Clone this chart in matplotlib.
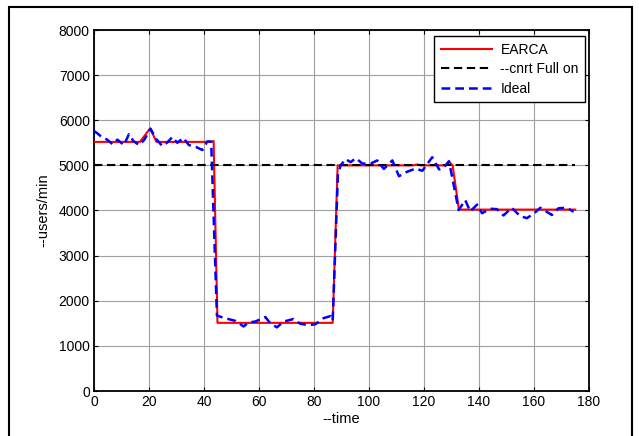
import matplotlib
matplotlib.use("Agg")
import matplotlib.pyplot as plt
from matplotlib.patches import Rectangle

plt.rcParams["font.family"] = ["Liberation Sans", "DejaVu Sans"]

# EARCA allocation (red)
earca_t = [0, 16.7, 20.4, 22.7, 42.7, 43.5, 44.9, 86.8, 88.6, 116, 117.5, 119, 127.9,
           129.0, 130.4, 132.7, 175]
earca_v = [5520, 5520, 5820, 5520, 5520, 5540, 1510, 1510, 5000, 5000, 5020, 5000, 5000,
           5090, 5000, 4020, 4020]

# constant "full on" reference (black)
full_t = [0, 175]
full_v = [5000, 5000]

# ideal demand (blue)
ideal_t = [0, 1, 3, 4.8, 6.7, 8.5, 10.9, 12.7, 14.3, 16.4, 18.2, 20.6, 22.4, 24.8, 26.7,
           28.5, 30.3, 32.5, 34.5, 37, 39.4, 41.2, 42.6,
           44.7, 47.8, 51.4, 54.4, 56.2, 58.7, 62.3, 64.1, 66.5, 69, 72.6, 75, 78.1, 80.5,
           83.5, 86, 86.8,
           88.7, 89.7, 91.5, 93.3, 95.2, 97.6, 100.6, 103, 105.4, 108.5, 110.9, 113.9, 117,
           119.4, 123, 125.5, 127.3, 129.1,
           132.6, 135, 136.8, 139.3, 141.1, 144.1, 146.5, 148.9, 151.9, 154.9, 157.4, 159.9,
           162.3, 166.5, 168.9, 172, 174.4]
ideal_v = [5760, 5720, 5620, 5570, 5470, 5570, 5450, 5690, 5540, 5450, 5560, 5810, 5600,
           5430, 5510, 5630, 5500, 5610, 5450, 5410, 5340, 5530, 5530,
           1670, 1610, 1555, 1430, 1518, 1540, 1640, 1500, 1410, 1540, 1595, 1490, 1460,
           1480, 1615, 1660, 1560,
           4800, 5000, 5140, 5070, 5160, 5040, 5040, 5110, 4920, 5110, 4760, 4860, 4930,
           4880, 5180, 4910, 4960, 5090,
           4010, 4230, 3980, 4130, 3940, 4040, 4030, 3890, 4060, 3880, 3830, 3930,
           4060, 3900, 4050, 4060, 3970]

x_ticks = list(range(0, 181, 20))
y_ticks = list(range(0, 8001, 1000))

fig = plt.figure(figsize=(6.39, 4.36), dpi=100)
ax = fig.add_axes([94 / 639, 1 - 391 / 436, 495 / 639, 361 / 436])

ax.plot(earca_t, earca_v, color="#ff0000", lw=1.5, label="EARCA", zorder=3)
ax.plot(full_t, full_v, color="black", lw=1.5, ls=(0, (4, 2.2)), label="--cnrt Full on", zorder=3)
ax.plot(ideal_t, ideal_v, color="#0000ff", lw=1.8, ls=(0, (3.5, 2)), label="Ideal", zorder=4)

ax.set_xlim(0, 180)
ax.set_ylim(0, 8000)
ax.set_xticks(x_ticks)
ax.set_yticks(y_ticks)
ax.grid(True, color="#a0a0a0", lw=0.8)
ax.tick_params(direction="in", length=3, top=True, right=True, labelsize=10, pad=3)
for sp in ax.spines.values():
    sp.set_linewidth(1.3)

ax.set_xlabel("--time", fontsize=10.5, labelpad=2)
ax.set_ylabel("--users/min", fontsize=10.5, labelpad=6)

leg = ax.legend(loc="upper right", bbox_to_anchor=(0.992, 0.982), borderaxespad=0,
                fontsize=10, fancybox=False, framealpha=1, edgecolor="black",
                handlelength=3.7, labelspacing=0.4, borderpad=0.45, handletextpad=0.6)
leg.get_frame().set_linewidth(1.0)

# outer figure frame
fig.patches.append(Rectangle((9 / 639, -0.05), 623 / 639, 1.05 - 7 / 436, transform=fig.transFigure,
                             fill=False, edgecolor="black", lw=1.5))

fig.savefig("out.png", dpi=100)
